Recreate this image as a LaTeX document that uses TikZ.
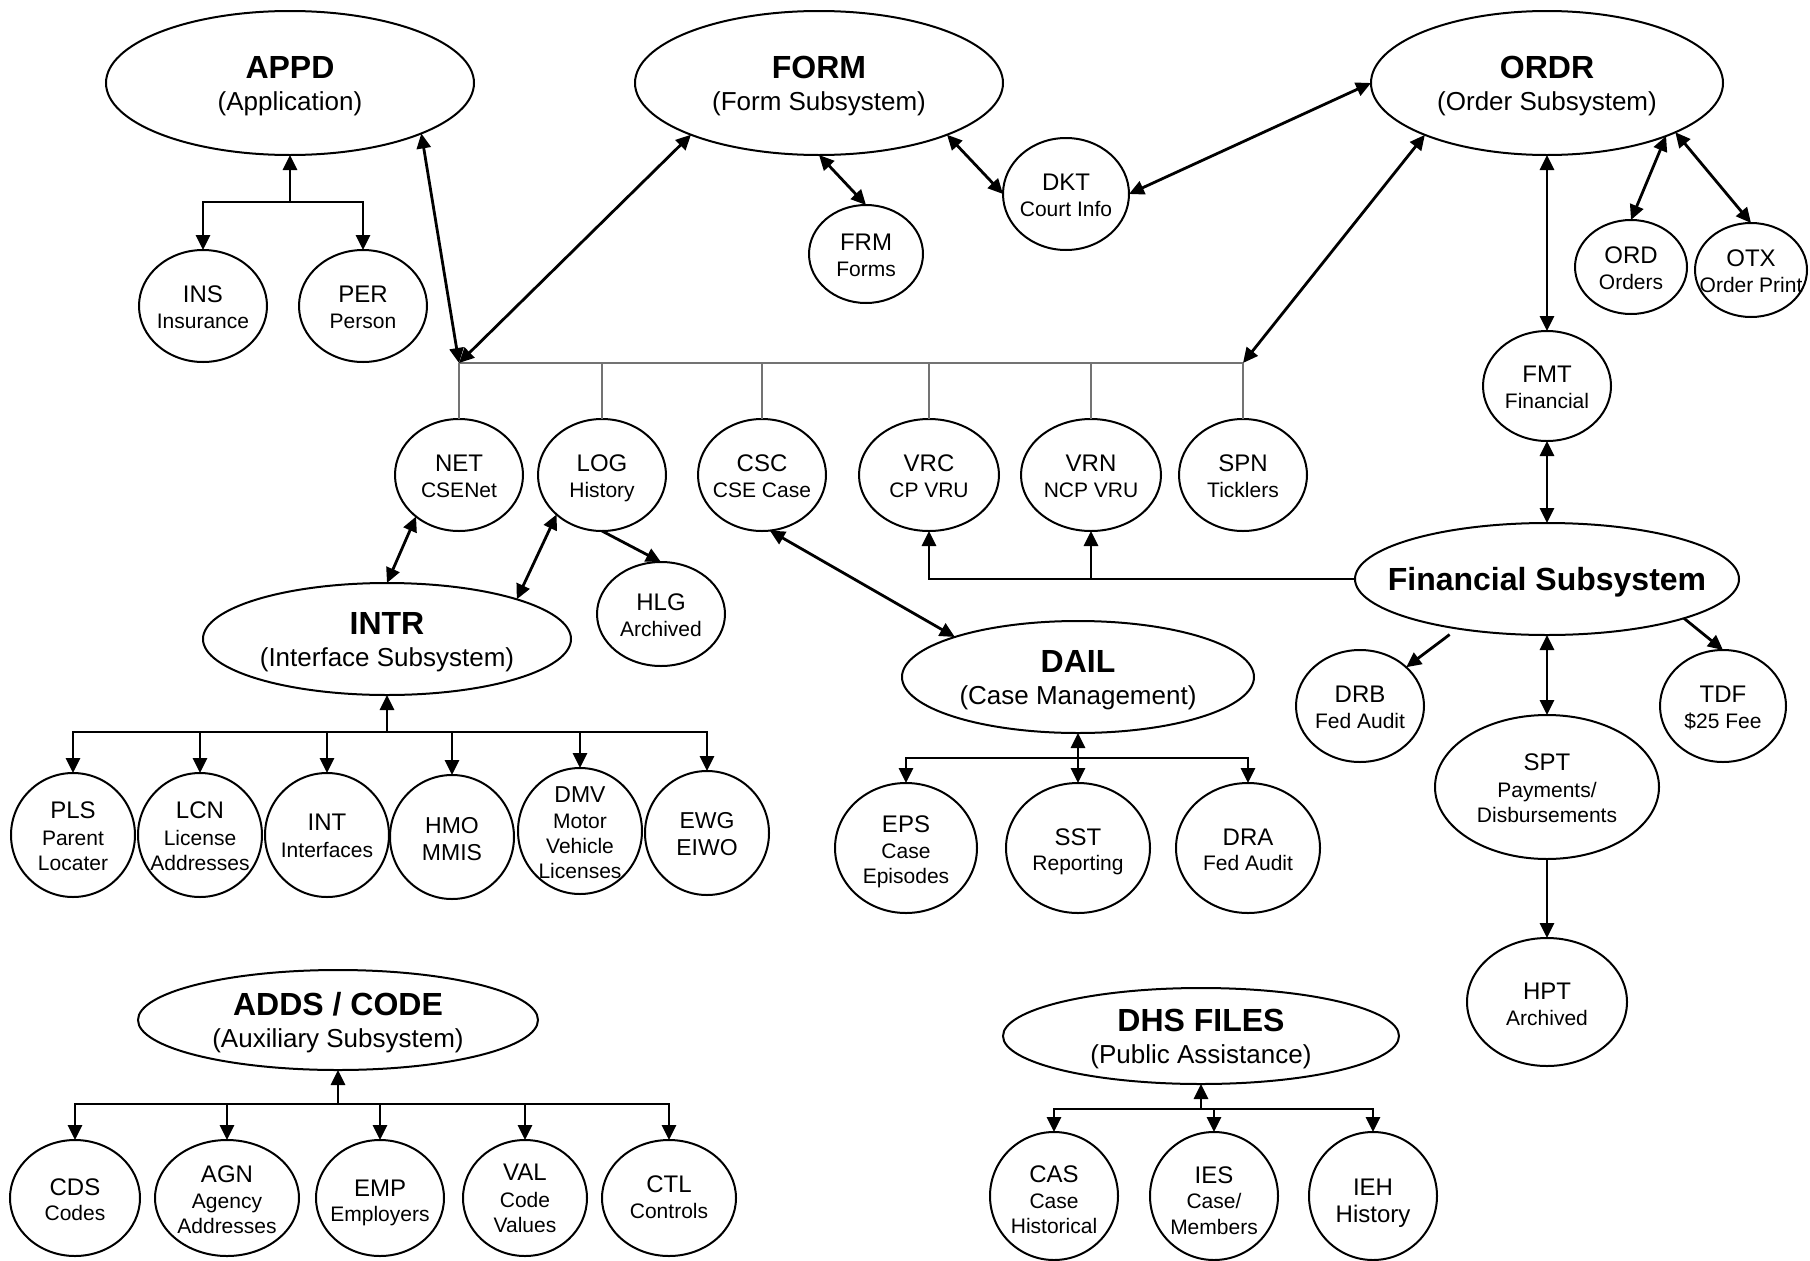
\documentclass[tikz,border=0pt]{standalone}
\usepackage{fontspec}
\setmainfont{Liberation Sans}
\usetikzlibrary{shapes.geometric, arrows.meta}

% type sizes
\newcommand\fntT{\fontsize{32pt}{36pt}\selectfont\bfseries}
\newcommand\fntS{\fontsize{26pt}{30pt}\selectfont}
\newcommand\fntC{\fontsize{24pt}{28pt}\selectfont}
\newcommand\fntM{\fontsize{23pt}{27pt}\selectfont}
\newcommand\fntD{\fontsize{21pt}{25pt}\selectfont}

% one line of text, centred, with its baseline raised by #1 pt from the node centre
\newcommand\txtat[2]{\makebox[0pt]{\raisebox{#1pt}[0pt][0pt]{#2}}}
\newcommand\twoln[2]{\txtat{4}{\fntC #1}\txtat{-22}{\fntD #2}}
\newcommand\threeln[3]{\txtat{17}{\fntC #1}\txtat{-10}{\fntD #2}\txtat{-35}{\fntD #3}}
\newcommand\subsys[2]{\txtat{5}{\fntT #1}\txtat{-27}{\fntS #2}}

\begin{document}
\begin{tikzpicture}[
  x=1pt, y=-1pt,
  >={Triangle[length=15pt,width=14pt]},
  bub/.style n args={2}{draw, ellipse, line width=2pt, inner sep=0pt,
    outer sep=0pt, minimum width=#1pt, minimum height=#2pt},
  link/.style={line width=2.8pt, ->},
  both/.style={line width=2.8pt, <->},
  busline/.style={line width=1.5pt, draw=black!55},
]
\useasboundingbox (0,0) rectangle (1810,1261);
\fill[white] (0,0) rectangle (1810,1261);

% ---------- subsystems ----------
\node[bub={368}{144}] (appd) at (290,83)   {\subsys{APPD}{(Application)}};
\node[bub={368}{144}] (form) at (819,83)   {\subsys{FORM}{(Form Subsystem)}};
\node[bub={352}{144}] (ordr) at (1547,83)  {\subsys{ORDR}{(Order Subsystem)}};
\node[bub={368}{112}] (intr) at (387,639)  {\subsys{INTR}{(Interface Subsystem)}};
\node[bub={384}{112}] (fin)  at (1547,579) {\txtat{-11}{\fntT Financial Subsystem}};
\node[bub={352}{112}] (dail) at (1078,677) {\subsys{DAIL}{(Case Management)}};
\node[bub={400}{100}] (adds) at (338,1020) {\subsys{ADDS / CODE}{(Auxiliary Subsystem)}};
\node[bub={396}{96}]  (dhs)  at (1201,1036){\subsys{DHS FILES}{(Public Assistance)}};

% ---------- files ----------
\node[bub={128}{112}] (ins) at (203,306)  {\twoln{INS}{Insurance}};
\node[bub={128}{112}] (per) at (363,306)  {\twoln{PER}{Person}};
\node[bub={114}{98}]  (frm) at (866,254)  {\twoln{FRM}{Forms}};
\node[bub={126}{112}] (dkt) at (1066,194) {\twoln{DKT}{Court Info}};
\node[bub={112}{94}]  (ord) at (1631,267) {\twoln{ORD}{Orders}};
\node[bub={112}{94}]  (otx) at (1751,270) {\twoln{OTX}{Order Print}};
\node[bub={128}{110}] (fmt) at (1547,386) {\twoln{FMT}{Financial}};

\node[bub={128}{112}] (net) at (459,475)  {\twoln{NET}{CSENet}};
\node[bub={128}{112}] (log) at (602,475)  {\twoln{LOG}{History}};
\node[bub={128}{112}] (csc) at (762,475)  {\twoln{CSC}{CSE Case}};
\node[bub={140}{112}] (vrc) at (929,475)  {\twoln{VRC}{CP VRU}};
\node[bub={140}{112}] (vrn) at (1091,475) {\twoln{VRN}{NCP VRU}};
\node[bub={128}{112}] (spn) at (1243,475) {\twoln{SPN}{Ticklers}};
\node[bub={128}{104}] (hlg) at (661,614)  {\twoln{HLG}{Archived}};

\node[bub={124}{124}] (pls) at (73,835)   {\threeln{PLS}{Parent}{Locater}};
\node[bub={124}{124}] (lcn) at (200,835)  {\threeln{LCN}{License}{Addresses}};
\node[bub={124}{124}] (int) at (327,835)  {\txtat{5}{\fntC INT}\txtat{-22}{\fntD Interfaces}};
\node[bub={124}{124}] (hmo) at (452,837)  {\txtat{4}{\fntM HMO}\txtat{-23}{\fntM MMIS}};
\node[bub={124}{126}] (dmv) at (580,831)  {\txtat{29}{\fntM DMV}\txtat{3}{\fntD Motor}\txtat{-22}{\fntD Vehicle}\txtat{-47}{\fntD Licenses}};
\node[bub={124}{124}] (ewg) at (707,833)  {\txtat{5}{\fntM EWG}\txtat{-22}{\fntM EIWO}};

\node[bub={142}{130}] (eps) at (906,848)  {\txtat{16}{\fntC EPS}\txtat{-10}{\fntD Case}\txtat{-35}{\fntD Episodes}};
\node[bub={144}{130}] (sst) at (1078,848) {\txtat{3}{\fntC SST}\txtat{-22}{\fntD Reporting}};
\node[bub={144}{130}] (dra) at (1248,848) {\txtat{3}{\fntC DRA}\txtat{-22}{\fntD Fed Audit}};

\node[bub={128}{112}] (drb) at (1360,706) {\twoln{DRB}{Fed Audit}};
\node[bub={126}{112}] (tdf) at (1723,706) {\twoln{TDF}{\$25 Fee}};
\node[bub={224}{144}] (spt) at (1547,787) {\threeln{SPT}{Payments/}{Disbursements}};
\node[bub={160}{128}] (hpt) at (1547,1002){\txtat{3}{\fntC HPT}\txtat{-23}{\fntD Archived}};

\node[bub={130}{116}] (cds) at (75,1198)  {\txtat{3}{\fntC CDS}\txtat{-22}{\fntD Codes}};
\node[bub={144}{116}] (agn) at (227,1198) {\txtat{16}{\fntC AGN}\txtat{-10}{\fntD Agency}\txtat{-35}{\fntD Addresses}};
\node[bub={128}{116}] (emp) at (380,1198) {\txtat{2}{\fntC EMP}\txtat{-23}{\fntD Employers}};
\node[bub={124}{116}] (val) at (525,1198) {\txtat{18}{\fntC VAL}\txtat{-9}{\fntD Code}\txtat{-34}{\fntD Values}};
\node[bub={134}{116}] (ctl) at (669,1198) {\txtat{6}{\fntC CTL}\txtat{-20}{\fntD Controls}};

\node[bub={128}{128}] (cas) at (1054,1196){\txtat{14}{\fntC CAS}\txtat{-12}{\fntD Case}\txtat{-37}{\fntD Historical}};
\node[bub={128}{128}] (ies) at (1214,1196){\txtat{13}{\fntC IES}\txtat{-12}{\fntD Case/}\txtat{-38}{\fntD Members}};
\node[bub={128}{128}] (ieh) at (1373,1196){\txtat{1}{\fntC IEH}\txtat{-26}{\fntC History}};

% ---------- shared bus ----------
\coordinate (bus-w) at (459,363);
\coordinate (bus-e) at (1243,363);
\draw[busline] (bus-w) -- (bus-e);
\draw[busline] (bus-w) -- (net.north);
\foreach \n in {log,csc,vrc,vrn}
  \draw[busline] (\n.north |- bus-w) -- (\n.north);
\draw[busline] (bus-e) -- (spn.north);

\draw[both] (appd.-21) -- (bus-w);
\draw[both] (form.-158) -- (bus-w);
\draw[both] (ordr.-157) -- (bus-e);

% ---------- upper links ----------
\draw[both] (form.south) -- (frm.north);
\draw[both] (form.-22) -- (dkt.west);
\draw[both] (dkt.east) -- (ordr.west);
\draw[both] (ordr.south) -- (fmt.north);
\draw[both] (ordr.-24) -- (ord.north);
\draw[both] (ordr.-21) -- (otx.north);

% ---------- financial ----------
\draw[both] (fmt.south) -- (fin.north);
\draw[link] (fin.west) -| (vrc.south);
\draw[link] (fin.west) -| (vrn.south);
\draw[link, shorten <=10pt] (fin.-151) -- (drb.40);
\draw[link] (fin.-16) -- (tdf.north);
\draw[both] (fin.south) -- (spt.north);
\draw[link] (spt.south) -- (hpt.north);

% ---------- interface / history / case ----------
\draw[both] (net.224) -- (intr.north);
\draw[both] (log.221) -- (intr.17);
\draw[link] (log.south) -- (hlg.north);
\draw[both] (csc.-82) -- (dail.162);

% ---------- trees ----------
\coordinate (appd-j) at (290,202);
\draw[link] (appd-j) -- (appd.south);
\foreach \n in {ins,per} \draw[link] (appd-j) -| (\n.north);

\coordinate (intr-j) at (387,732);
\draw[link] (intr-j) -- (intr.south);
\foreach \n in {pls,lcn,int,hmo,dmv,ewg} \draw[link] (intr-j) -| (\n.north);

\coordinate (dail-j) at (1078,758);
\draw[link] (dail-j) -- (dail.south);
\foreach \n in {eps,sst,dra} \draw[link] (dail-j) -| (\n.north);

\coordinate (adds-j) at (338,1104);
\draw[link] (adds-j) -- (adds.south);
\foreach \n in {cds,agn,emp,val,ctl} \draw[link] (adds-j) -| (\n.north);

\coordinate (dhs-j) at (1201,1109);
\draw[link] (dhs-j) -- (dhs.south);
\foreach \n in {cas,ies,ieh} \draw[link] (dhs-j) -| (\n.north);
\end{tikzpicture}
\end{document}
